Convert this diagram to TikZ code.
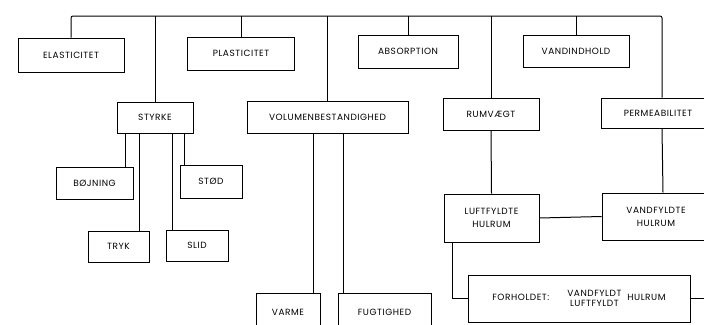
\documentclass[tikz,border=0pt]{standalone}
\usepackage{fontspec}
\setmainfont[LetterSpace=6]{Poppins}
\usetikzlibrary{positioning,calc}
\tikzset{
  box/.style={draw,rectangle,line width=1pt,inner sep=2pt,align=center,font=\fontsize{9}{13}\selectfont},
  conn/.style={line width=1pt},
}

\begin{document}
\begin{tikzpicture}[x=1pt, y=-1pt]
  \useasboundingbox (0,0) rectangle (704,324);
  \clip (0,0) rectangle (704,324);
  \coordinate (top) at (0,16);
  \coordinate (rim) at (710,0);

  % First row
  \node[box, minimum width=106, minimum height=34] (elast) at (71,55) {ELASTICITET};
  \node[box, minimum width=107, minimum height=33] (plast) at (241,53.5) {PLASTICITET};
  \node[box, minimum width=100, minimum height=33] (absorp) at (408,51.5) {ABSORPTION};
  \node[box, minimum width=106, minimum height=32] (vandind) at (576,51) {VANDINDHOLD};

  % Second row
  \node[box, minimum width=76, minimum height=31] (styrke) at (155,117.5) {STYRKE};
  \node[box, minimum width=161, minimum height=32] (volumen) at (327.5,117) {VOLUMENBESTANDIGHED};
  \node[box, minimum width=96, minimum height=32] (rumv) at (491,114) {RUMVÆGT};
  \node[box, minimum width=122, minimum height=30] (perm) at (662,113) {\hspace*{-8pt}PERMEABILITET};

  % Top bus
  \draw[conn, rounded corners=2pt] (elast.north) |- (perm.north |- top) -- (perm.north);
  \foreach \n in {plast,absorp,vandind,styrke,volumen,rumv}
    \draw[conn] (\n.north) -- (\n.north |- top);

  % Under STYRKE
  \node[box, minimum width=77, minimum height=32] (bojn) at (94.5,183) {BØJNING};
  \node[box, minimum width=62, minimum height=33] (stod) at (211,181.5) {STØD};
  \node[box, minimum width=61, minimum height=31] (tryk) at (118.5,246.5) {TRYK};
  \node[box, minimum width=62, minimum height=31] (slid) at (197,245.5) {SLID};
  \draw[conn] ([xshift=-8pt]bojn.north east) -- ([xshift=-8pt]bojn.north east |- styrke.south);
  \draw[conn] ([xshift=-10pt]tryk.north east) -- ([xshift=-10pt]tryk.north east |- styrke.south);
  \draw[conn] ([xshift=7pt]slid.north west) -- ([xshift=7pt]slid.north west |- styrke.south);
  \draw[conn] ([xshift=5pt]stod.north west) -- ([xshift=5pt]stod.north west |- styrke.south);

  % Under VOLUMENBESTANDIGHED
  \node[box, minimum width=64, minimum height=38] (varme) at (288,312) {VARME};
  \node[box, minimum width=93, minimum height=38] (fugt) at (384.5,312) {FUGTIGHED};
  \draw[conn] ([xshift=-7pt]varme.north east) -- ([xshift=-7pt]varme.north east |- volumen.south);
  \draw[conn] ([xshift=6pt]fugt.north west) -- ([xshift=6pt]fugt.north west |- volumen.south);

  % Hulrum
  \node[box, minimum width=95, minimum height=48] (luft) at (491.5,218) {LUFTFYLDTE\\HULRUM};
  \node[box, minimum width=122, minimum height=47] (vandf) at (663,216.5) {\hspace*{-14pt}VANDFYLDTE\\\hspace*{-14pt}HULRUM};
  \node[box, minimum width=222, minimum height=47] (forh) at (579,298.5)
    {FORHOLDET:\hspace{18pt}\begin{tabular}{@{}c@{}}VANDFYLDT\\[-3pt]LUFTFYLDT\end{tabular}\hspace{6pt}HULRUM};
  \draw[conn] (rumv.south) -- (luft.north);
  \draw[conn] (perm.south) -- (vandf.north);
  \draw[conn] (luft.east) -- (vandf.west);
  \draw[conn] ([xshift=9pt]luft.south west) |- (forh.west);
  \draw[conn] (forh.east) -- (forh.east -| rim);
\end{tikzpicture}
\end{document}
